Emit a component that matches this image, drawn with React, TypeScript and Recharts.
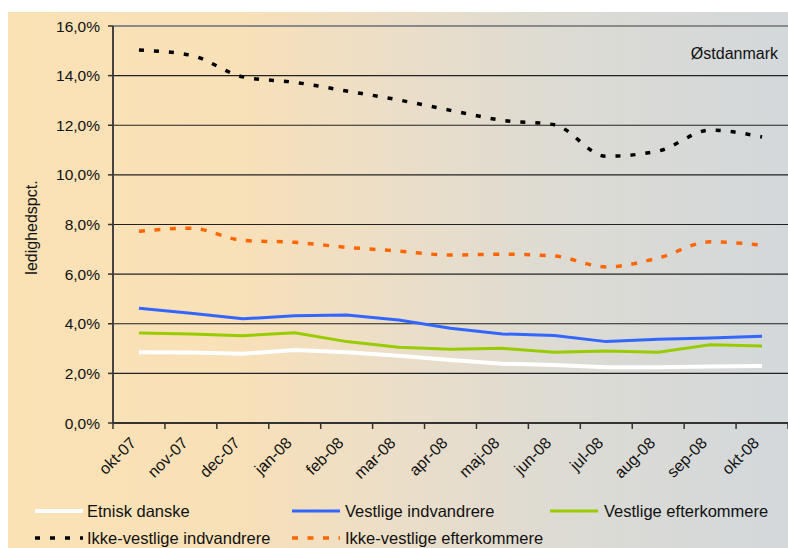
import React from 'react';
import { LineChart, Line, XAxis, YAxis, CartesianGrid, ReferenceLine, Legend } from 'recharts';

const months = ['okt-07', 'nov-07', 'dec-07', 'jan-08', 'feb-08', 'mar-08', 'apr-08', 'maj-08', 'jun-08', 'jul-08', 'aug-08', 'sep-08', 'okt-08'];
const etniskDanske = [2.85, 2.84, 2.79, 2.94, 2.85, 2.71, 2.54, 2.39, 2.34, 2.25, 2.25, 2.28, 2.3];
const vestligeIndvandrere = [4.62, 4.42, 4.2, 4.32, 4.35, 4.15, 3.82, 3.59, 3.53, 3.28, 3.38, 3.43, 3.5];
const vestligeEfterkommere = [3.63, 3.59, 3.52, 3.64, 3.28, 3.05, 2.97, 3.01, 2.85, 2.9, 2.85, 3.15, 3.1];
const ikkeVestligeIndvandrere = [15.03, 14.82, 13.95, 13.73, 13.38, 13.02, 12.6, 12.2, 12.02, 10.75, 10.96, 11.8, 11.53];
const ikkeVestligeEfterkommere = [7.73, 7.85, 7.36, 7.28, 7.08, 6.93, 6.77, 6.8, 6.73, 6.29, 6.65, 7.3, 7.17];
const yTicks = [0, 2, 4, 6, 8, 10, 12, 14, 16];

const FONT = '"Liberation Sans", Arial, sans-serif';

const data = months.map((m, i) => ({
  idx: i,
  month: m,
  etnisk: etniskDanske[i],
  vestInd: vestligeIndvandrere[i],
  vestEft: vestligeEfterkommere[i],
  ikkeInd: ikkeVestligeIndvandrere[i],
  ikkeEft: ikkeVestligeEfterkommere[i],
}));

const xTicks: number[] = [];
for (let i = 0; i <= months.length; i++) {
  xTicks.push(i - 0.5);
  if (i < months.length) xTicks.push(i);
}

const series = [
  { key: 'etnisk', name: 'Etnisk danske', color: '#FFFFFF', width: 4, dash: undefined as string | undefined, type: 'linear' },
  { key: 'vestInd', name: 'Vestlige indvandrere', color: '#3366FF', width: 3, dash: undefined, type: 'linear' },
  { key: 'vestEft', name: 'Vestlige efterkommere', color: '#99CC00', width: 3, dash: undefined, type: 'linear' },
  { key: 'ikkeInd', name: 'Ikke-vestlige indvandrere', color: '#000000', width: 3.5, dash: '5 10', type: 'monotone' },
  { key: 'ikkeEft', name: 'Ikke-vestlige efterkommere', color: '#FF6600', width: 3.5, dash: '6 9.5', type: 'monotone' },
];

const XTick = (props: any) => {
  const { x, y, payload } = props;
  const v = payload.value as number;
  if (Number.isInteger(v)) {
    const tx = x - 2;
    const ty = y + 21;
    return (
      <text x={tx} y={ty} textAnchor="end" fontSize={16} fontFamily={FONT} fill="#111" transform={`rotate(-45, ${tx}, ${ty})`}>
        {months[v]}
      </text>
    );
  }
  return <line x1={x} x2={x} y1={y} y2={y + 6} stroke="#333" strokeWidth={1.5} />;
};

const legendPos = [
  { lx: 27, tx: 79, ty: 18 },
  { lx: 284, tx: 337, ty: 18 },
  { lx: 542, tx: 596, ty: 18 },
  { lx: 27, tx: 79, ty: 45 },
  { lx: 284, tx: 337, ty: 45 },
];

const LegendContent = () => (
  <svg width={780} height={55} style={{ display: 'block' }}>
    {series.map((s, i) => {
      const p = legendPos[i];
      return (
        <g key={s.key}>
          <line x1={p.lx} x2={p.lx + 48} y1={p.ty} y2={p.ty} stroke={s.color} strokeWidth={s.width} strokeDasharray={s.dash} />
          <text x={p.tx} y={p.ty + 6} fontSize={16.5} fontFamily={FONT} fill="#111">{s.name}</text>
        </g>
      );
    })}
  </svg>
);

export default function App() {
  return (
    <div
      style={{
        position: 'absolute',
        top: 12,
        left: 8,
        width: 780,
        height: 536,
        background: 'linear-gradient(to right, #FBE2B5 0%, #F8E0B8 30%, #EBDEC8 50%, #DDDBD3 70%, #D3D8DB 100%)',
      }}
    >
      <LineChart width={780} height={536} data={data} margin={{ top: 14, right: 0, left: 0, bottom: 0 }}>
        <CartesianGrid vertical={false} stroke="#222" strokeWidth={1.2} />
        <XAxis
          dataKey="idx"
          type="number"
          domain={[-0.5, 12.5]}
          ticks={xTicks}
          interval={0}
          allowDecimals
          tick={<XTick />}
          tickLine={false}
          tickSize={0}
          tickMargin={0}
          height={70}
          axisLine={{ stroke: '#333', strokeWidth: 2 }}
        />
        <YAxis
          type="number"
          domain={[0, 16]}
          ticks={yTicks}
          interval={0}
          width={105}
          tickSize={5}
          tickMargin={8}
          tickFormatter={(v: number) => v.toFixed(1).replace('.', ',') + '%'}
          tick={{ fontSize: 15.5, fontFamily: FONT, fill: '#111' }}
          tickLine={{ stroke: '#333', strokeWidth: 1.5 }}
          axisLine={{ stroke: '#444', strokeWidth: 2 }}
          label={(p: any) => {
            const vb = p.viewBox;
            const cx = 29;
            const cy = vb.y + vb.height / 2 + 3;
            return (
              <text x={cx} y={cy} textAnchor="middle" fontSize={16} fontFamily={FONT} fill="#111" transform={`rotate(-90, ${cx}, ${cy})`}>
                ledighedspct.
              </text>
            );
          }}
        />
        <ReferenceLine
          y={16}
          stroke="#8a8a8a"
          strokeWidth={2}
          label={(p: any) => {
            const vb = p.viewBox;
            return (
              <text x={vb.x + vb.width - 10} y={vb.y + 33} textAnchor="end" fontSize={16} fontFamily={FONT} fill="#111">
                Østdanmark
              </text>
            );
          }}
        />
        {series.map((s) => (
          <Line
            key={s.key}
            dataKey={s.key}
            name={s.name}
            type={s.type as any}
            stroke={s.color}
            strokeWidth={s.width}
            strokeDasharray={s.dash}
            dot={false}
            activeDot={false}
            isAnimationActive={false}
          />
        ))}
        <Legend verticalAlign="bottom" height={55} content={<LegendContent />} wrapperStyle={{ left: 0, width: 780, height: 55 }} />
      </LineChart>
    </div>
  );
}
